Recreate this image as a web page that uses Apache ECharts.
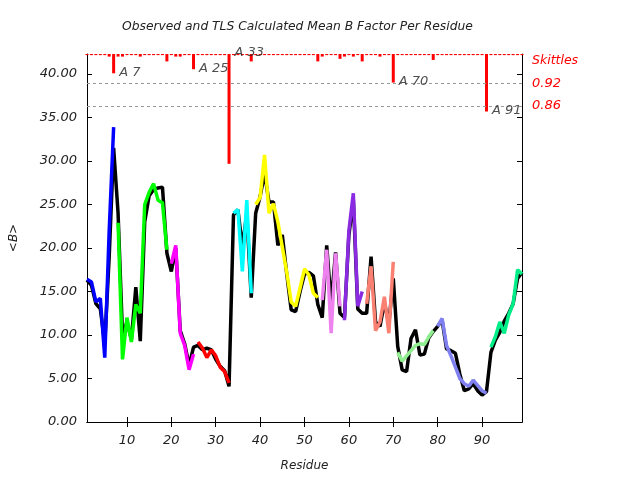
<!DOCTYPE html>
<html>
<head>
<meta charset="utf-8">
<script src="https://cdn.jsdelivr.net/npm/echarts@6/dist/echarts.min.js"></script>
<style>
  html, body { margin: 0; padding: 0; background: #fff; }
  #main { width: 640px; height: 480px; }
</style>
</head>
<body>
<div id="main"></div>
<script>
// observed mean B per residue, residues 1..99
const observed = [
  16.3, 15.7, 13.6, 13.0, 9.0, 19.0, 31.5, 24.0, 10.0, 11.5,
  9.5, 15.5, 9.3, 23.0, 26.0, 26.7, 26.9, 27.0, 19.4, 17.3,
  20.0, 10.5, 9.0, 6.5, 8.6, 8.8, 8.3, 8.5, 8.3, 7.2,
  6.4, 5.9, 4.1, 23.8, 24.4, 20.1, 24.0, 14.3, 24.0, 25.9,
  28.6, 25.3, 25.3, 20.3, 21.5, 17.0, 12.9, 12.7, 15.0, 17.0,
  17.2, 16.8, 13.5, 12.0, 20.3, 13.6, 19.5, 12.5, 12.0, 21.5,
  25.5, 13.0, 12.5, 12.5, 19.0, 11.5, 11.0, 13.7, 11.3, 16.5,
  8.7, 6.0, 5.8, 9.6, 10.6, 7.7, 7.8, 9.7, 10.4, 11.0,
  11.7, 8.4, 8.2, 7.9, 5.5, 3.6, 3.8, 4.4, 3.6, 3.1,
  3.5, 8.0, 9.4, 10.3, 11.6, 12.5, 13.6, 16.5, 17.2
];

// TLS calculated B, one array per TLS group
const tlsA1 = [16.4, 16.1, 13.8, 14.2, 7.4, 22.0, 33.9];
const tlsA8 = [22.9, 7.2, 12.0, 9.2, 13.5, 12.5, 25.0, 26.4, 27.4, 25.5, 25.2, 19.8];
const tlsA20 = [18.2, 20.3, 10.2, 8.8, 6.0, 7.8];
const tlsA26 = [9.2, 8.5, 7.4, 8.3, 7.6, 6.3, 5.8, 4.5];
const tlsA34 = [24.0, 24.4, 17.3, 25.5, 14.8];
const tlsA39 = [25.0, 25.8, 30.7, 24.0, 25.1, 23.0, 20.1, 17.2, 13.8, 13.3, 15.4, 17.6, 16.9, 14.8, 14.3];
const tlsA54 = [14.0, 19.8, 10.2, 19.4, 13.3];
const tlsA59 = [11.7, 22.0, 26.3, 13.3, 15.0];
const tlsA64 = [13.6, 17.9, 10.5, 11.5, 14.4, 10.2, 18.4];
const tlsA71 = [8.0, 7.0, 7.6, 8.2, 8.8, 9.0, 8.9, 9.8, 10.5];
const tlsA80 = [11.0, 11.9, 8.8, 7.6, 6.3, 5.0, 4.4, 4.1, 4.8, 4.2, 3.6, 3.3];
const tlsA92 = [8.6, 9.8, 11.5, 10.2, 12.3, 13.6, 17.5, 17.0];

const groupStart = [1, 8, 20, 26, 34, 39, 54, 59, 64, 71, 80, 92];
const groupValues = [tlsA1, tlsA8, tlsA20, tlsA26, tlsA34, tlsA39, tlsA54, tlsA59, tlsA64, tlsA71, tlsA80, tlsA92];
const groupColors = ['#0000ff', '#00ff00', '#ff00ff', '#ff0000', '#00ffff', '#ffff00',
  '#ee82ee', '#8a2be2', '#fa8072', '#90ee90', '#8080f0', '#00ee88'];

// skittles (1 at the top, hanging down)
const skittleResidues = [6, 7, 8, 9, 13, 19, 21, 22, 25, 33, 38, 53, 54, 58, 59, 61, 63, 67, 70, 79, 91];
const skittleValues = [0.993, 0.948, 0.993, 0.993, 0.993, 0.980, 0.993, 0.993, 0.959, 0.704, 0.980,
  0.980, 0.993, 0.987, 0.993, 0.993, 0.980, 0.993, 0.923, 0.984, 0.845];
const skittleBase = 0.997;
const labelledResidues = [7, 25, 33, 70, 91];
const thresholds = [0.92, 0.86];

const xTicks = [10, 20, 30, 40, 50, 60, 70, 80, 90];
const yTicks = [0, 5, 10, 15, 20, 25, 30, 35, 40];

const font = 'DejaVu Sans';
const textCol = '#222';

const skittles = observed.map((_, i) => {
  const k = skittleResidues.indexOf(i + 1);
  return k >= 0 ? skittleValues[k] : skittleBase;
});

const series = [{
  type: 'line',
  data: observed.map((v, i) => [i + 1, v]),
  showSymbol: false,
  lineStyle: { color: '#000', width: 3.5 },
  itemStyle: { color: '#000' },
  z: 2
}];

groupValues.forEach((vals, k) => {
  series.push({
    type: 'line',
    data: vals.map((v, i) => [groupStart[k] + i, v]),
    showSymbol: false,
    lineStyle: { color: groupColors[k], width: 3.5 },
    itemStyle: { color: groupColors[k] },
    z: 3
  });
});

series.push({
  type: 'bar',
  xAxisIndex: 0,
  yAxisIndex: 2,
  barWidth: 3,
  data: skittles.map((s, i) => [i + 1, 1 - s]),
  itemStyle: { color: '#ff0000' },
  z: 4,
  markLine: {
    silent: true,
    symbol: 'none',
    lineStyle: { color: '#999', type: [3, 3], width: 1 },
    label: {
      position: 'end', distance: 10, formatter: '{b}',
      color: '#ff0000', fontStyle: 'italic', fontSize: 13, fontFamily: font
    },
    data: thresholds.map(t => ({ yAxis: 1 - t, name: t.toFixed(2) }))
  }
});

// residue labels at the tip, or at the top when the skittle reaches deep into the plot
series.push({
  type: 'scatter',
  xAxisIndex: 0,
  yAxisIndex: 2,
  symbolSize: 1,
  itemStyle: { color: 'rgba(0,0,0,0)' },
  data: labelledResidues.map(r => {
    const s = skittles[r - 1];
    return { value: [r, s < 0.8 ? 0 : 1 - s], name: 'A ' + r };
  }),
  label: {
    show: true, position: 'right', distance: 5, offset: [0, -1], formatter: '{b}',
    color: textCol, fontStyle: 'italic', fontSize: 13, fontFamily: font
  },
  z: 5
});

const tickStyle = { inside: true, length: 5, lineStyle: { color: '#000' } };
const lineStyle = { show: true, lineStyle: { color: '#000', width: 1 } };
const labelStyle = { color: textCol, fontStyle: 'italic', fontSize: 13, fontFamily: font };
const nameStyle = { color: textCol, fontStyle: 'italic', fontSize: 12, fontFamily: font };

const chart = echarts.init(document.getElementById('main'));
chart.setOption({
  animation: false,
  backgroundColor: '#fff',
  title: {
    text: 'Observed and TLS Calculated Mean B Factor Per Residue',
    left: 117, top: 16,
    textStyle: { color: textCol, fontStyle: 'italic', fontWeight: 'normal', fontSize: 12.3, fontFamily: font }
  },
  graphic: [{
    type: 'text', left: 532, top: 54,
    style: { text: 'Skittles', fill: '#ff0000', font: 'italic 12.5px "DejaVu Sans"' }
  }],
  grid: { left: 85, right: 118, top: 54, bottom: 58 },
  xAxis: [{
    type: 'value', min: 1, max: 99, position: 'bottom',
    axisLine: lineStyle,
    axisTick: Object.assign({ customValues: xTicks }, tickStyle),
    axisLabel: Object.assign({ customValues: xTicks, margin: 12 }, labelStyle),
    splitLine: { show: false },
    name: 'Residue', nameLocation: 'middle', nameGap: 38,
    nameTextStyle: nameStyle
  }, {
    type: 'value', min: 1, max: 99, position: 'top',
    axisLine: lineStyle,
    axisTick: Object.assign({ customValues: xTicks }, tickStyle),
    axisLabel: { show: false },
    splitLine: { show: false }
  }],
  yAxis: [{
    type: 'value', min: 0, max: 42.3, position: 'left',
    axisLine: lineStyle,
    axisTick: Object.assign({ customValues: yTicks }, tickStyle),
    axisLabel: Object.assign({ customValues: yTicks, margin: 10, formatter: v => v.toFixed(2) }, labelStyle),
    splitLine: { show: false },
    name: '<B>', nameLocation: 'middle', nameGap: 67, nameRotate: 90,
    nameTextStyle: nameStyle
  }, {
    type: 'value', min: 0, max: 42.3, position: 'right',
    axisLine: lineStyle,
    axisTick: Object.assign({ customValues: yTicks }, tickStyle),
    axisLabel: { show: false },
    splitLine: { show: false }
  }, {
    type: 'value', min: 0, max: 0.992, inverse: true, show: false,
    splitLine: { show: false }
  }],
  series: series
});
</script>
</body>
</html>
